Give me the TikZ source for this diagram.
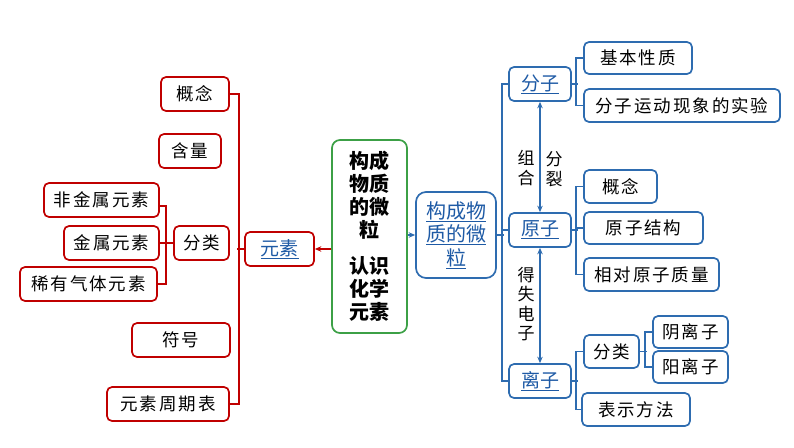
\documentclass[tikz,border=0pt]{standalone}
\usepackage{fontspec}
\setmainfont{Noto Sans CJK SC}
\newfontfamily\spc[LetterSpace=11]{Noto Sans CJK SC}
\usetikzlibrary{arrows.meta}
\definecolor{myred}{RGB}{192,0,0}
\definecolor{myblue}{RGB}{46,108,176}
\definecolor{mytxt}{RGB}{30,90,165}
\definecolor{mygreen}{RGB}{60,160,70}
\begin{document}
\begin{tikzpicture}[x=1pt,y=-1pt,
  box/.style={draw, line width=1.7pt, rounded corners=5pt, inner sep=0pt, minimum height=34pt, font=\spc\fontsize{17.5}{20}\selectfont, text=black},
  rbox/.style={box, draw=myred},
  bbox/.style={box, draw=myblue},
  hbox/.style={bbox, font=\fontsize{19}{22}\selectfont, text=mytxt},
  rline/.style={draw=myred, line width=1.5pt},
  bline/.style={draw=myblue, line width=1.5pt},
  tip/.style={-{Stealth[length=6.5pt,width=5.5pt]}},
  dtip/.style={{Stealth[length=6.5pt,width=5.5pt]}-{Stealth[length=6.5pt,width=5.5pt]}},
  lbl/.style={align=center, inner sep=0pt, font=\fontsize{17}{20}\selectfont}
]
\useasboundingbox (0,0) rectangle (794,447);

% left (red)
\node[rbox, minimum width=68pt] (gn) at (195,94) {概念};
\node[rbox, minimum width=62pt] (hl) at (190,151) {含量};
\node[rbox, minimum width=115pt] (fjs) at (101.5,200) {非金属元素};
\node[rbox, minimum width=95pt] (js) at (111.5,243) {金属元素};
\node[rbox, minimum width=55pt] (fl) at (201.5,243) {分类};
\node[rbox, minimum width=69pt, font=\fontsize{19}{22}\selectfont, text=mytxt] (ys) at (279.5,249) {\underline{元素}};
\node[rbox, minimum width=137pt] (xy) at (88.5,284) {稀有气体元素};
\node[rbox, minimum width=98pt] (fh) at (181,340) {符号};
\node[rbox, minimum width=122pt] (zqb) at (168,404) {元素周期表};

% centre
\node[draw=mygreen, line width=1.7pt, rounded corners=8pt, minimum width=75pt, minimum height=193pt, inner sep=0pt, align=center, font=\bfseries\fontsize{20}{23}\selectfont] (gr) at (369.5,236.5) {构成\\物质\\的微\\粒\\[13pt]认识\\化学\\元素};
\node[bbox, rounded corners=10pt, minimum width=80pt, minimum height=86pt, align=center, font=\fontsize{20}{23.5}\selectfont, text=mytxt] (cb) at (456,235) {\underline{构成物}\\\underline{质的微}\\\underline{粒}};

% right (blue)
\node[hbox, minimum width=62pt] (fz) at (540,84) {\underline{分子}};
\node[hbox, minimum width=62pt] (yz) at (540,230) {\underline{原子}};
\node[hbox, minimum width=62pt] (lz) at (540,381) {\underline{离子}};

\node[bbox, minimum width=108pt, minimum height=32pt] (jbxz) at (638,58) {基本性质};
\node[bbox, minimum width=196pt, minimum height=33pt] (syan) at (682,105.5) {分子运动现象的实验};
\node[bbox, minimum width=73pt, minimum height=33pt] (gn2) at (620.5,186.5) {概念};
\node[bbox, minimum width=119pt, minimum height=32pt] (yzjg) at (643.5,228) {原子结构};
\node[bbox, minimum width=135pt, minimum height=33pt] (xdyz) at (651.5,274.5) {相对原子质量};
\node[bbox, minimum width=55pt, minimum height=33pt] (fl2) at (611.5,351.5) {分类};
\node[bbox, minimum width=108pt, minimum height=33pt] (bsff) at (636,409.5) {表示方法};
\node[bbox, minimum width=75pt, minimum height=32pt] (yinlz) at (690.5,332) {阴离子};
\node[bbox, minimum width=75pt, minimum height=32pt] (yanglz) at (690.5,367) {阳离子};

\node[lbl] (zh) at (526,168) {组\\合};
\node[lbl] (fl3) at (554,169) {分\\裂};
\node[lbl, font=\fontsize{17}{19.5}\selectfont] (ds) at (526,304) {得\\失\\电\\子};

% red connectors
\draw[rline] (gn.east) -- ++(9,0) |- (zqb.east);
\draw[rline] (ys.west) -- ++(-7,0);
\draw[rline] ([yshift=-6pt]fjs.east) -- ++(6,0) |- (xy.east);
\draw[rline] (js.east) -- (fl.west);
\draw[rline, tip] (ys.east -| gr.west) -- (ys.east);

% blue connectors
\draw[bline, tip] (gr.east |- cb.west) -- (cb.west);
\draw[bline] (cb.east) -- ++(7,0);
\draw[bline] (fz.west) -- ++(-6,0) |- (lz.west);
\draw[bline] (yz.west) -- ++(-6,0);
\draw[bline, dtip] (fz.south) -- (yz.north);
\draw[bline, dtip] (yz.south) -- (lz.north);

\draw[bline] (fz.east) -- ++(6,0);
\draw[bline] (jbxz.west) -- ++(-7,0) |- (syan.west);
\draw[bline] (yz.east) -- ++(6,0);
\draw[bline] (gn2.west) -- ++(-7,0) |- (xdyz.west);
\draw[bline] (yzjg.west) -- ++(-7,0);
\draw[bline] (lz.east) -- ++(6,0);
\draw[bline] (fl2.west) -- ++(-7,0) |- (bsff.west);
\draw[bline] (fl2.east) -- ++(7,0);
\draw[bline] (yinlz.west) -- ++(-7,0) |- (yanglz.west);
\end{tikzpicture}
\end{document}
